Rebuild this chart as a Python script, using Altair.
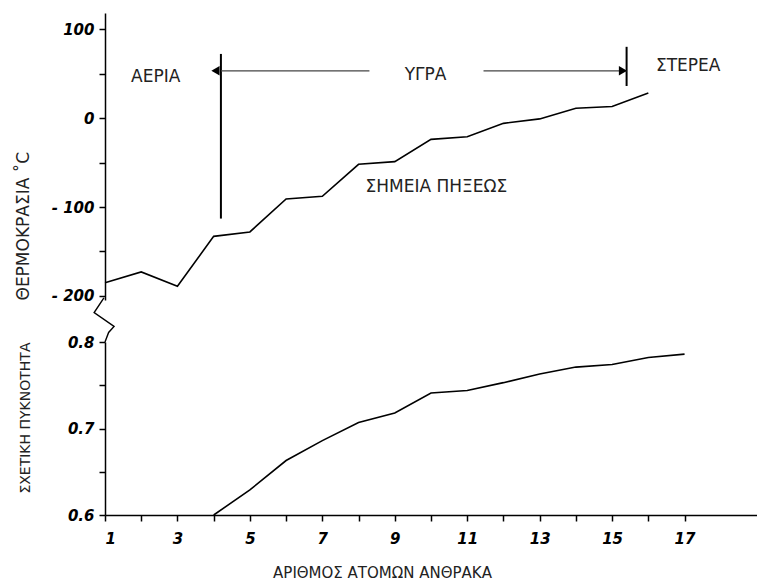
import altair as alt
import pandas as pd

# ---- data ----
carbons_t = list(range(1, 17))
freezing_c = [-185, -173, -189, -133, -128, -91, -88, -52, -49, -24, -21, -6, -1, 11, 13, 28]

carbons_d = list(range(4, 18))
rel_density = [0.600, 0.629, 0.663, 0.686, 0.707, 0.718, 0.741, 0.744,
               0.753, 0.763, 0.771, 0.774, 0.782, 0.786]

# phase annotations (data coordinates)
phase_labels = ["ΑΕΡΙΑ", "ΥΓΡΑ", "ΣΤΕΡΕΑ"]
phase_x = [2.4, 9.85, 17.1]
phase_y = [46, 48, 58]

curve_label = ["ΣΗΜΕΙΑ ΠΗΞΕΩΣ"]
curve_label_x = [10.15]
curve_label_y = [-77]

# phase boundary markers
bound_x = [4.2, 15.4]
bound_top = [72, 80]
bound_bottom = [-113, 36]
arrow_y = 53
arrow_seg_start = [4.2, 11.45]
arrow_seg_end = [8.3, 15.4]

# axis-break zigzag (bottom panel data coords)
zig_x = [0.97, 0.70, 1.25, 1.10, 1.0]
zig_y = [0.851, 0.834, 0.818, 0.811, 0.800]

x_ticks = list(range(1, 18))
t_ticks = [-200, -150, -100, -50, 0, 50, 100]
d_ticks = [0.60, 0.65, 0.70, 0.75, 0.80]

XDOM = [1, 19]
W = 652
TXT_FONT = "DejaVu Sans"

xs_top = alt.Scale(domain=XDOM, nice=False, zero=False)
ys_top = alt.Scale(domain=[-204.5, 118], nice=False, zero=False)
ys_bot = alt.Scale(domain=[0.6, 0.8], nice=False, zero=False)

# ---- top panel ----
dt = pd.DataFrame({"n": carbons_t, "t": freezing_c})
temp_line = alt.Chart(dt).mark_line(color="black", strokeWidth=1.6).encode(
    x=alt.X("n:Q", scale=xs_top, axis=None),
    y=alt.Y("t:Q", scale=ys_top,
            axis=alt.Axis(values=t_ticks, title="ΘΕΡΜΟΚΡΑΣΙΑ ˚C", titleAnchor="start",
                          titleX=-73, titleFontSize=17,
                          labelExpr="datum.value % 100 != 0 ? '' : (datum.value < 0 ? '- ' + (-datum.value) : '' + datum.value)")),
)

db = pd.DataFrame({"n": bound_x, "top": bound_top, "bot": bound_bottom})
bounds = alt.Chart(db).mark_rule(color="black", strokeWidth=2).encode(
    x=alt.X("n:Q", scale=xs_top), y=alt.Y("top:Q", scale=ys_top), y2="bot:Q")

da = pd.DataFrame({"a": arrow_seg_start, "b": arrow_seg_end, "y": [arrow_y, arrow_y]})
arrows = alt.Chart(da).mark_rule(color="#444", strokeWidth=1.2).encode(
    x=alt.X("a:Q", scale=xs_top), x2="b:Q", y=alt.Y("y:Q", scale=ys_top))

dh = pd.DataFrame({"n": [4.05, 15.3], "y": [arrow_y, arrow_y],
                   "shape": ["triangle-left", "triangle-right"]})
heads = alt.Chart(dh).mark_point(filled=True, color="black", size=90, opacity=1).encode(
    x=alt.X("n:Q", scale=xs_top), y=alt.Y("y:Q", scale=ys_top),
    shape=alt.Shape("shape:N", scale=None))

dp = pd.DataFrame({"n": phase_x, "y": phase_y, "lab": phase_labels})
ptext = alt.Chart(dp).mark_text(font=TXT_FONT, fontSize=17, color="#222").encode(
    x=alt.X("n:Q", scale=xs_top), y=alt.Y("y:Q", scale=ys_top), text="lab:N")

dc = pd.DataFrame({"n": curve_label_x, "y": curve_label_y, "lab": curve_label})
ctext = alt.Chart(dc).mark_text(font=TXT_FONT, fontSize=17, color="#222").encode(
    x=alt.X("n:Q", scale=xs_top), y=alt.Y("y:Q", scale=ys_top), text="lab:N")

top = alt.layer(temp_line, bounds, arrows, heads, ptext, ctext).properties(width=W, height=287)

# ---- bottom panel ----
dd = pd.DataFrame({"n": carbons_d, "d": rel_density})
dens_line = alt.Chart(dd).mark_line(color="black", strokeWidth=1.6).encode(
    x=alt.X("n:Q", scale=alt.Scale(domain=XDOM, nice=False, zero=False),
            axis=alt.Axis(values=x_ticks, title="ΑΡΙΘΜΟΣ ΑΤΟΜΩΝ ΑΝΘΡΑΚΑ",
                          labelExpr="datum.value % 2 == 1 ? datum.label : ''",
                          labelPadding=10, titleX=277, titleY=50, titleBaseline="top")),
    y=alt.Y("d:Q", scale=ys_bot,
            axis=alt.Axis(values=d_ticks, title="ΣΧΕΤΙΚΗ ΠΥΚΝΟΤΗΤΑ", titleAnchor="end",
                          titleX=-73, titleFontSize=14,
                          labelExpr="(round(datum.value*100) % 10 != 0) ? '' : format(datum.value, '.1f')")),
)

dz = pd.DataFrame({"n": zig_x, "d": zig_y, "o": list(range(len(zig_x)))})
zig = alt.Chart(dz).mark_line(color="black", strokeWidth=1.4).encode(
    x=alt.X("n:Q", scale=alt.Scale(domain=XDOM, nice=False, zero=False)),
    y=alt.Y("d:Q", scale=ys_bot), order="o:Q")

bottom = alt.layer(dens_line, zig).properties(width=W, height=173)

chart = alt.vconcat(top, bottom, spacing=42, bounds="flush").properties(
    padding={"left": 6, "top": 5, "right": 0, "bottom": 0},
    background="white",
).configure_view(stroke=None).configure_axis(
    grid=False,
    domainColor="black", domainWidth=1.5,
    tickColor="black", tickWidth=1.5, tickSize=6,
    labelFont="DejaVu Sans", labelFontStyle="italic", labelFontWeight="bold",
    labelFontSize=15, labelColor="black", labelPadding=5,
    titleFont=TXT_FONT, titleFontWeight="normal", titleFontSize=15, titleColor="#222",
)

chart.save("out.html", embed_options={"renderer": "svg", "actions": False})
